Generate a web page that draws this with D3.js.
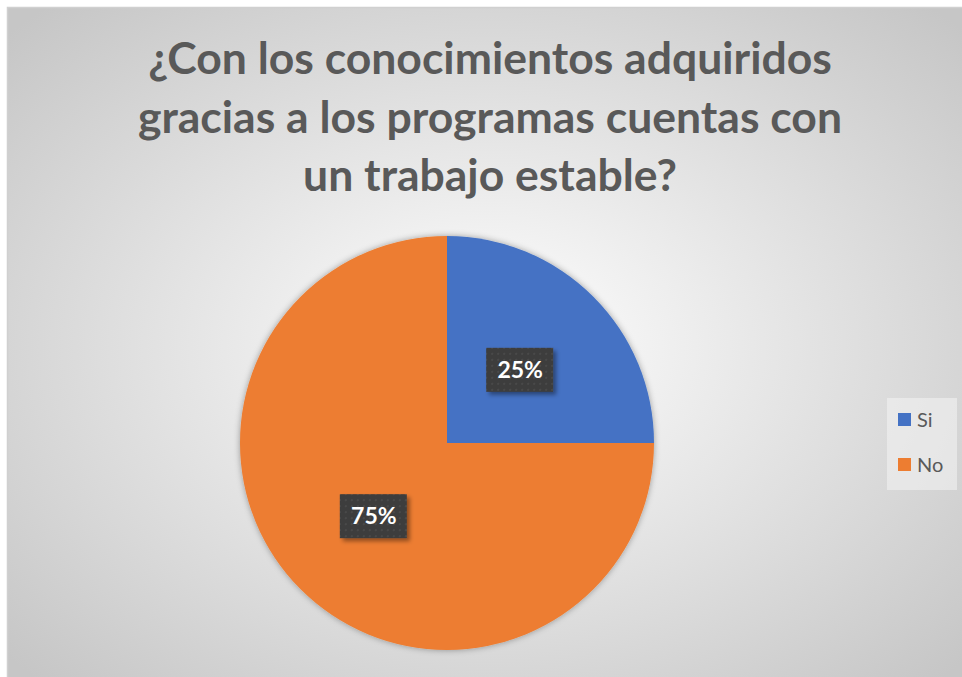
<!DOCTYPE html>
<html>
<head>
<meta charset="utf-8">
<script src="https://cdn.jsdelivr.net/npm/d3@7"></script>
<style>
  body { margin: 0; background: #fff; }
  svg { display: block; }
</style>
</head>
<body>
<svg width="962" height="677"></svg>
<script>
var categories = ["Si", "No"];
var values = [25, 75];
var colors = ["#4472c4", "#ed7d31"];
var titleLines = ["¿Con los conocimientos adquiridos", "gracias a los programas cuentas con", "un trabajo estable?"];

var svg = d3.select("svg"),
    width = +svg.attr("width"),
    height = +svg.attr("height");

var defs = svg.append("defs");
var grad = defs.append("radialGradient")
    .attr("id", "bg")
    .attr("cx", "50%").attr("cy", "50%").attr("r", "68%");
grad.append("stop").attr("offset", "0%").attr("stop-color", "#ffffff");
grad.append("stop").attr("offset", "100%").attr("stop-color", "#c6c6c6");

var shadow = defs.append("filter").attr("id", "shadow")
    .attr("x", "-20%").attr("y", "-20%").attr("width", "140%").attr("height", "140%");
shadow.append("feDropShadow").attr("dx", 0).attr("dy", 0).attr("stdDeviation", 3)
    .attr("flood-color", "#000").attr("flood-opacity", 0.35);

var lblShadow = defs.append("filter").attr("id", "lblshadow")
    .attr("x", "-20%").attr("y", "-20%").attr("width", "150%").attr("height", "150%");
lblShadow.append("feDropShadow").attr("dx", 3).attr("dy", 3).attr("stdDeviation", 2)
    .attr("flood-color", "#000").attr("flood-opacity", 0.4);

var pat = defs.append("pattern").attr("id", "dots")
    .attr("width", 6).attr("height", 6).attr("patternUnits", "userSpaceOnUse");
pat.append("rect").attr("width", 6).attr("height", 6).attr("fill", "#3c3c3c");
pat.append("rect").attr("x", 1).attr("y", 1).attr("width", 2).attr("height", 2).attr("fill", "#4a4a4a");

// chart area
svg.append("rect")
    .attr("x", 7.5).attr("y", 7.5)
    .attr("width", width).attr("height", height)
    .attr("fill", "url(#bg)")
    .attr("stroke", "#d0d0d0")
    .attr("stroke-width", 1.5);

// title
svg.append("g").selectAll("text")
  .data(titleLines)
  .enter().append("text")
    .attr("x", 490)
    .attr("y", function(d, i) { return 74 + i * 58.5; })
    .attr("text-anchor", "middle")
    .attr("font-family", "Lato, 'Open Sans', sans-serif")
    .attr("font-weight", "bold")
    .attr("font-size", 44.5)
    .attr("fill", "#595959")
    .text(function(d) { return d; });

// pie
var cx = 447, cy = 443, radius = 207;
var pie = d3.pie().sort(null).value(function(d) { return d; });
var arc = d3.arc().innerRadius(0).outerRadius(radius);
var arcs = pie(values);

var g = svg.append("g").attr("transform", "translate(" + cx + "," + cy + ")");
g.append("g").attr("filter", "url(#shadow)")
  .selectAll("path")
  .data(arcs)
  .enter().append("path")
    .attr("d", arc)
    .attr("fill", function(d, i) { return colors[i]; });

// labels
var labelArc = d3.arc().innerRadius(radius * 0.5).outerRadius(radius * 0.5);
var lbl = g.selectAll(".lbl")
  .data(arcs)
  .enter().append("g")
    .attr("class", "lbl")
    .attr("transform", function(d) {
      var c = labelArc.centroid(d);
      return "translate(" + c[0] + "," + c[1] + ")";
    });
lbl.append("rect")
    .attr("x", -34).attr("y", -22)
    .attr("width", 67).attr("height", 44)
    .attr("fill", "url(#dots)")
    .attr("filter", "url(#lblshadow)");
lbl.append("text")
    .attr("text-anchor", "middle")
    .attr("y", 8)
    .attr("font-family", "Lato, 'Open Sans', sans-serif")
    .attr("font-weight", "bold")
    .attr("font-size", 23)
    .attr("fill", "#fff")
    .text(function(d) { return Math.round(d.value / d3.sum(values) * 100) + "%"; });

// legend
var legend = svg.append("g").attr("transform", "translate(887,398)");
legend.append("rect")
    .attr("width", 70).attr("height", 92)
    .attr("fill", "#f2f2f2").attr("fill-opacity", 0.6);
var li = legend.selectAll(".li")
  .data(categories)
  .enter().append("g")
    .attr("transform", function(d, i) { return "translate(11," + (22 + i * 45) + ")"; });
li.append("rect")
    .attr("y", -7).attr("width", 13).attr("height", 13)
    .attr("fill", function(d, i) { return colors[i]; });
li.append("text")
    .attr("x", 19).attr("y", 7)
    .attr("font-family", "Lato, 'Open Sans', sans-serif")
    .attr("font-size", 20)
    .attr("fill", "#595959")
    .text(function(d) { return d; });
</script>
</body>
</html>
